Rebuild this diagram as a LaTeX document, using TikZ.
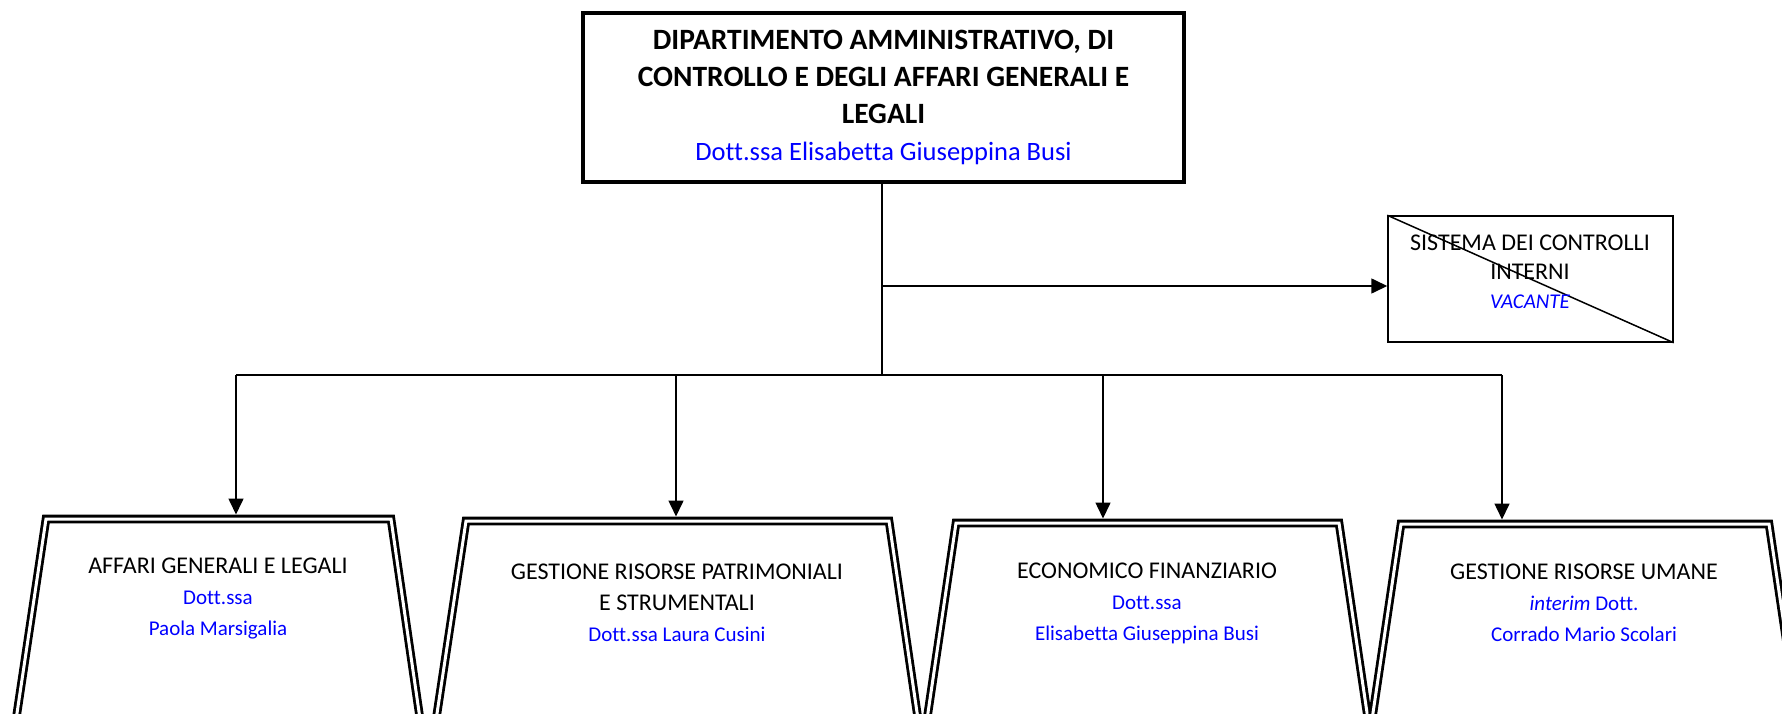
\documentclass[tikz,border=0pt]{standalone}
\usepackage{fontspec}
\setmainfont{Carlito}[Ligatures=CommonOff]
\usetikzlibrary{arrows.meta}
\definecolor{nameblue}{RGB}{0,0,255}
\begin{document}
\begin{tikzpicture}[x=1pt,y=-1pt,
  conn/.style={line width=1.6pt},
  arr/.style={conn,-{Triangle[length=16pt,width=15pt]}},
  unitbox/.style={double, line width=2.8pt, double distance=3pt, line join=miter},
  unittext/.style={align=center, font=\fontsize{24}{31}\selectfont}
]
\useasboundingbox (0,0) rectangle (1782,714);
\clip (0,0) rectangle (1782,714);
\newcommand{\bl}[1]{{\fontsize{21}{28}\selectfont\color{nameblue}#1}}

% top department box
\node[draw, line width=4pt, minimum width=601pt, minimum height=169pt, inner sep=0pt,
      align=center, font=\fontsize{29.5}{37}\selectfont\bfseries] (dept) at (883.5,97.5)
  {DIPARTIMENTO AMMINISTRATIVO, DI\\CONTROLLO E DEGLI AFFARI GENERALI E\\LEGALI\\
   {\mdseries\fontsize{26.5}{34}\selectfont\color{nameblue}Dott.ssa Elisabetta Giuseppina Busi}};

% sistema dei controlli interni
\node[draw, line width=1.5pt, minimum width=285pt, minimum height=126pt, inner sep=0pt] (sci) at (1530.5,279) {};
\draw[line width=1.5pt] (sci.north west) -- (sci.south east);
\node[align=center, font=\fontsize{24}{29}\selectfont] (scilabel) at (1530,272)
  {SISTEMA DEI CONTROLLI\\INTERNI\\{\fontsize{21}{27}\selectfont\itshape\color{nameblue}VACANTE}};

% connectors
\coordinate (bus0) at (882,375);
\coordinate (side) at (882,286);
\coordinate (b1) at (236,375);
\coordinate (b2) at (676,375);
\coordinate (b3) at (1103,375);
\coordinate (b4) at (1502,375);
\coordinate (t1) at (236,514.5);
\coordinate (t2) at (676,516.5);
\coordinate (t3) at (1103,518.5);
\coordinate (t4) at (1502,519.5);

\draw[conn] (882,184) -- (bus0);
\draw[arr] (side) -- (side -| sci.west);
\draw[conn] (b1) -- (b4);
\draw[arr] (b1) -- (t1);
\draw[arr] (b2) -- (t2);
\draw[arr] (b3) -- (t3);
\draw[arr] (b4) -- (t4);

% unit boxes (trapezoids, cut by the page bottom)
\draw[unitbox] (10,760) -- (46,519) -- (391,519) -- (426,760);
\draw[unitbox] (430,760) -- (466,521) -- (889,521) -- (924,760);
\draw[unitbox] (921,760) -- (956,523) -- (1339,523) -- (1374,760);
\draw[unitbox] (1366,760) -- (1401,524) -- (1769,524) -- (1804,760);

\node[unittext] (u1) at (218,599) {AFFARI GENERALI E LEGALI\\\bl{Dott.ssa}\\\bl{Paola Marsigalia}};
\node[unittext] (u2) at (677,603) {GESTIONE RISORSE PATRIMONIALI\\E STRUMENTALI\\\bl{Dott.ssa Laura Cusini}};
\node[unittext] (u3) at (1147,603) {ECONOMICO FINANZIARIO\\\bl{Dott.ssa}\\\bl{Elisabetta Giuseppina Busi}};
\node[unittext] (u4) at (1584,603) {GESTIONE RISORSE UMANE\\\bl{\itshape interim\upshape{} Dott.}\\\bl{Corrado Mario Scolari}};
\end{tikzpicture}
\end{document}
